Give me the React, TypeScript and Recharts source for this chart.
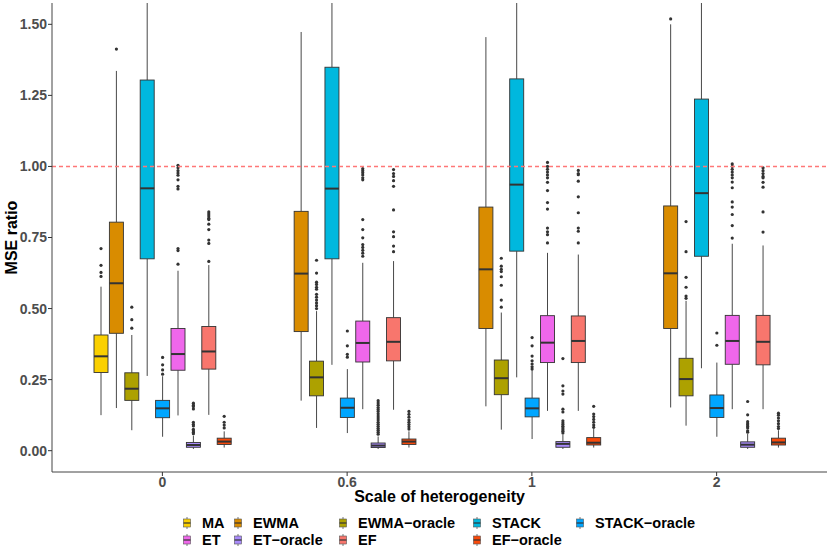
import React from 'react'
import { ComposedChart, Bar, XAxis, YAxis, ReferenceLine } from 'recharts'

// categories on the x axis
const CATEGORIES = ['0', '0.6', '1', '2']

const SERIES = ['MA', 'EWMA', 'EWMA-oracle', 'STACK', 'STACK-oracle', 'ET', 'ET-oracle', 'EF', 'EF-oracle']

const COLORS = ['#FAD000', '#D98C00', '#ADA100', '#00B8DE', '#00A6FF', '#EF67EB', '#A98BFA', '#F8766D', '#F94A0A']

const Y_TICKS = [0, 0.25, 0.5, 0.75, 1, 1.25, 1.5]

// box stats per category: [lower whisker, q1, median, q3, upper whisker]
const MA_BOX = [[0.125, 0.275, 0.332, 0.407, 0.577], null, null, null]
const MA_OUT = [[0.711, 0.652, 0.627, 0.613], [], [], []]

const EWMA_BOX = [
  [0.15, 0.413, 0.589, 0.804, 1.336],
  [0.176, 0.419, 0.623, 0.842, 1.473],
  [0.156, 0.43, 0.638, 0.857, 1.455],
  [0.152, 0.43, 0.624, 0.861, 1.5],
]
const EWMA_OUT = [[1.413], [], [], [1.519]]

const EWMA_ORACLE_BOX = [
  [0.072, 0.177, 0.218, 0.274, 0.407],
  [0.08, 0.193, 0.258, 0.315, 0.491],
  [0.074, 0.197, 0.255, 0.319, 0.486],
  [0.088, 0.193, 0.252, 0.325, 0.527],
]
const EWMA_ORACLE_OUT = [
  [0.505, 0.461, 0.431],
  [0.67, 0.625, 0.593, 0.585, 0.575, 0.568, 0.55, 0.54, 0.53, 0.52, 0.51, 0.5],
  [0.677, 0.649, 0.638, 0.63, 0.612, 0.582, 0.53, 0.505],
  [0.806, 0.7, 0.61, 0.575, 0.544, 0.536],
]

const STACK_BOX = [
  [0.263, 0.675, 0.923, 1.304, 2.05],
  [0.302, 0.675, 0.922, 1.349, 2.2],
  [0.258, 0.702, 0.936, 1.308, 2.1],
  [0.29, 0.684, 0.906, 1.237, 1.95],
]
const STACK_OUT = [[], [], [], []]

const STACK_ORACLE_BOX = [
  [0.049, 0.116, 0.149, 0.177, 0.262],
  [0.062, 0.117, 0.151, 0.185, 0.287],
  [0.041, 0.119, 0.149, 0.185, 0.283],
  [0.049, 0.117, 0.15, 0.196, 0.31],
]
const STACK_ORACLE_OUT = [
  [0.328, 0.302, 0.284, 0.269],
  [0.421, 0.369, 0.339, 0.329],
  [0.398, 0.369, 0.333, 0.316, 0.305, 0.295, 0.287],
  [0.414, 0.371],
]

const ET_BOX = [
  [0.124, 0.283, 0.34, 0.43, 0.633],
  [0.146, 0.312, 0.379, 0.456, 0.661],
  [0.14, 0.31, 0.38, 0.475, 0.696],
  [0.146, 0.304, 0.386, 0.476, 0.728],
]
const ET_OUT = [
  [1.004, 0.995, 0.985, 0.977, 0.969, 0.953, 0.93, 0.921, 0.711, 0.704, 0.656],
  [0.992, 0.985, 0.978, 0.97, 0.96, 0.953, 0.813, 0.778, 0.749, 0.725, 0.715, 0.705, 0.695, 0.684],
  [1.014, 1.0, 0.99, 0.98, 0.97, 0.96, 0.944, 0.915, 0.873, 0.85, 0.783, 0.77, 0.76, 0.731],
  [1.009, 1.0, 0.99, 0.98, 0.97, 0.96, 0.945, 0.925, 0.875, 0.857, 0.831, 0.792, 0.748],
]

const ET_ORACLE_BOX = [
  [0.006, 0.012, 0.02, 0.029, 0.053],
  [0.006, 0.011, 0.018, 0.027, 0.05],
  [0.006, 0.012, 0.024, 0.032, 0.055],
  [0.006, 0.012, 0.021, 0.031, 0.059],
]
const ET_ORACLE_OUT = [
  [0.167, 0.16, 0.155, 0.147, 0.1, 0.093, 0.087, 0.075, 0.07, 0.065, 0.06],
  [0.176, 0.168, 0.16, 0.152, 0.145, 0.138, 0.13, 0.122, 0.115, 0.108, 0.1, 0.093, 0.086, 0.079, 0.072, 0.065, 0.058],
  [0.324, 0.228, 0.21, 0.199, 0.146, 0.136, 0.105, 0.098, 0.092, 0.086, 0.08, 0.074, 0.068, 0.062],
  [0.173, 0.126, 0.102, 0.095, 0.09, 0.085, 0.08, 0.07, 0.065],
]

const EF_BOX = [
  [0.126, 0.287, 0.349, 0.437, 0.653],
  [0.144, 0.316, 0.383, 0.468, 0.667],
  [0.14, 0.31, 0.386, 0.474, 0.69],
  [0.146, 0.302, 0.383, 0.476, 0.722],
]
const EF_OUT = [
  [0.84, 0.833, 0.826, 0.818, 0.813, 0.797, 0.778, 0.741, 0.729, 0.666],
  [0.989, 0.975, 0.965, 0.95, 0.93, 0.847, 0.77, 0.753, 0.72, 0.7],
  [0.986, 0.975, 0.971, 0.948, 0.893, 0.837, 0.783, 0.772, 0.731],
  [0.995, 0.985, 0.975, 0.965, 0.96, 0.944, 0.927, 0.84, 0.769],
]

const EF_ORACLE_BOX = [
  [0.011, 0.022, 0.032, 0.044, 0.068],
  [0.011, 0.022, 0.032, 0.041, 0.068],
  [0.011, 0.02, 0.028, 0.046, 0.076],
  [0.011, 0.02, 0.029, 0.044, 0.072],
]
const EF_ORACLE_OUT = [
  [0.121, 0.1, 0.09, 0.08],
  [0.138, 0.128, 0.118, 0.108, 0.1, 0.092, 0.084, 0.076],
  [0.156, 0.129, 0.12, 0.11, 0.1, 0.09, 0.082],
  [0.132, 0.125, 0.115, 0.105, 0.095, 0.085, 0.078],
]

const BOXES = [MA_BOX, EWMA_BOX, EWMA_ORACLE_BOX, STACK_BOX, STACK_ORACLE_BOX, ET_BOX, ET_ORACLE_BOX, EF_BOX, EF_ORACLE_BOX]
const OUTLIERS = [MA_OUT, EWMA_OUT, EWMA_ORACLE_OUT, STACK_OUT, STACK_ORACLE_OUT, ET_OUT, ET_ORACLE_OUT, EF_OUT, EF_ORACLE_OUT]

const data = CATEGORIES.map((cat, i) => {
  const row: any = { cat }
  SERIES.forEach((s, j) => {
    const box = BOXES[j][i]
    row[s] = box ? { box, out: OUTLIERS[j][i] } : null
  })
  return row
})

const FONT = '"Liberation Sans", Arial, Helvetica, sans-serif'
const LINE = '#333333'

// draws a box from the bar's [q1, q3] rectangle; other values use the same pixel scale
const BoxShape = (props: any) => {
  const { x, y, width, height, payload, series, color } = props
  const entry = payload && payload[series]
  if (!entry || !height) return null
  const [lo, q1, med, q3, hi] = entry.box
  const top = Math.min(y, y + height)
  const h = Math.abs(height)
  const k = h / (q3 - q1)
  const py = (v: number) => top + (q3 - v) * k
  const cx = x + width / 2
  return (
    <g>
      <line x1={cx} x2={cx} y1={py(hi)} y2={top} stroke={LINE} strokeWidth={0.9} />
      <line x1={cx} x2={cx} y1={top + h} y2={py(lo)} stroke={LINE} strokeWidth={0.9} />
      <rect x={x} y={top} width={width} height={h} fill={color} stroke={LINE} strokeWidth={0.9} />
      <line x1={x} x2={x + width} y1={py(med)} y2={py(med)} stroke={LINE} strokeWidth={2} />
      {entry.out.map((v: number, i: number) => (
        <circle key={i} cx={cx} cy={py(v)} r={1.6} fill={LINE} />
      ))}
    </g>
  )
}

const YTitle = (props: any) => {
  const { viewBox } = props
  const cy = viewBox.y + viewBox.height / 2
  const bx = 16.5
  return (
    <text x={bx} y={cy} transform={`rotate(-90, ${bx}, ${cy})`} textAnchor="middle" fontSize={16} fontWeight="bold" fill="#000" fontFamily={FONT}>
      MSE ratio
    </text>
  )
}

const XTitle = (props: any) => {
  const { viewBox } = props
  return (
    <text x={viewBox.x + viewBox.width / 2} y={viewBox.y + 30} textAnchor="middle" fontSize={16} fontWeight="bold" fill="#000" fontFamily={FONT}>
      Scale of heterogeneity
    </text>
  )
}

const LEGEND_COLS = [187, 238, 343, 477, 580]
const LEGEND_ROWS = [523, 540]

function LegendKey({ cx, cy, color }: { cx: number; cy: number; color: string }) {
  return (
    <g>
      <line x1={cx} x2={cx} y1={cy - 6} y2={cy + 6} stroke="#555" strokeWidth={0.8} />
      <rect x={cx - 3.5} y={cy - 4} width={7} height={8} fill={color} stroke="#555" strokeWidth={0.6} />
      <line x1={cx - 3.5} x2={cx + 3.5} y1={cy} y2={cy} stroke="#333" strokeWidth={1.2} />
    </g>
  )
}

export default function App() {
  return (
    <div style={{ position: 'absolute', left: 0, top: 0, width: 830, height: 554, background: '#fff', fontFamily: FONT }}>
      <ComposedChart
        width={830}
        height={554}
        data={data}
        margin={{ top: 3, right: 3, bottom: 0, left: 7 }}
        barGap={1.4}
        style={{ fontFamily: FONT }}
      >
        <XAxis
          dataKey="cat"
          type="category"
          height={82}
          padding={{ left: 18, right: 18 }}
          tickSize={4}
          tickMargin={1}
          tickLine={{ stroke: LINE }}
          axisLine={{ stroke: '#444' }}
          tick={{ fontSize: 14, fontWeight: 'bold', fill: '#4D4D4D', fontFamily: FONT }}
          label={<XTitle />}
        />
        <YAxis
          type="number"
          domain={[-0.075, 1.575]}
          allowDataOverflow
          ticks={Y_TICKS}
          tickFormatter={(v: number) => v.toFixed(2)}
          width={45}
          tickSize={4}
          tickMargin={1}
          tickLine={{ stroke: LINE }}
          axisLine={{ stroke: '#444' }}
          tick={{ fontSize: 14, fontWeight: 'bold', fill: '#4D4D4D', fontFamily: FONT }}
          label={<YTitle />}
        />
        {SERIES.map((s, j) => (
          <Bar
            key={s}
            name={s}
            dataKey={(row: any) => (row[s] ? [row[s].box[1], row[s].box[3]] : null)}
            barSize={14}
            fill={COLORS[j]}
            isAnimationActive={false}
            shape={(p: any) => <BoxShape {...p} series={s} color={COLORS[j]} />}
          />
        ))}
        <ReferenceLine y={1} stroke="#F77" strokeWidth={1.4} strokeDasharray="4 3" />
      </ComposedChart>
      <svg width={830} height={554} style={{ position: 'absolute', left: 0, top: 0, pointerEvents: 'none' }}>
        {SERIES.map((s, j) => {
          const row = j < 5 ? 0 : 1
          const col = j < 5 ? j : j - 5
          const cx = LEGEND_COLS[col]
          const cy = LEGEND_ROWS[row]
          return (
            <g key={s}>
              <LegendKey cx={cx} cy={cy} color={COLORS[j]} />
              <text x={cx + 15} y={cy + 5} fontSize={14.5} fontWeight="bold" fill="#000" fontFamily={FONT}>
                {s.replace('-', '\u2212')}
              </text>
            </g>
          )
        })}
      </svg>
    </div>
  )
}
